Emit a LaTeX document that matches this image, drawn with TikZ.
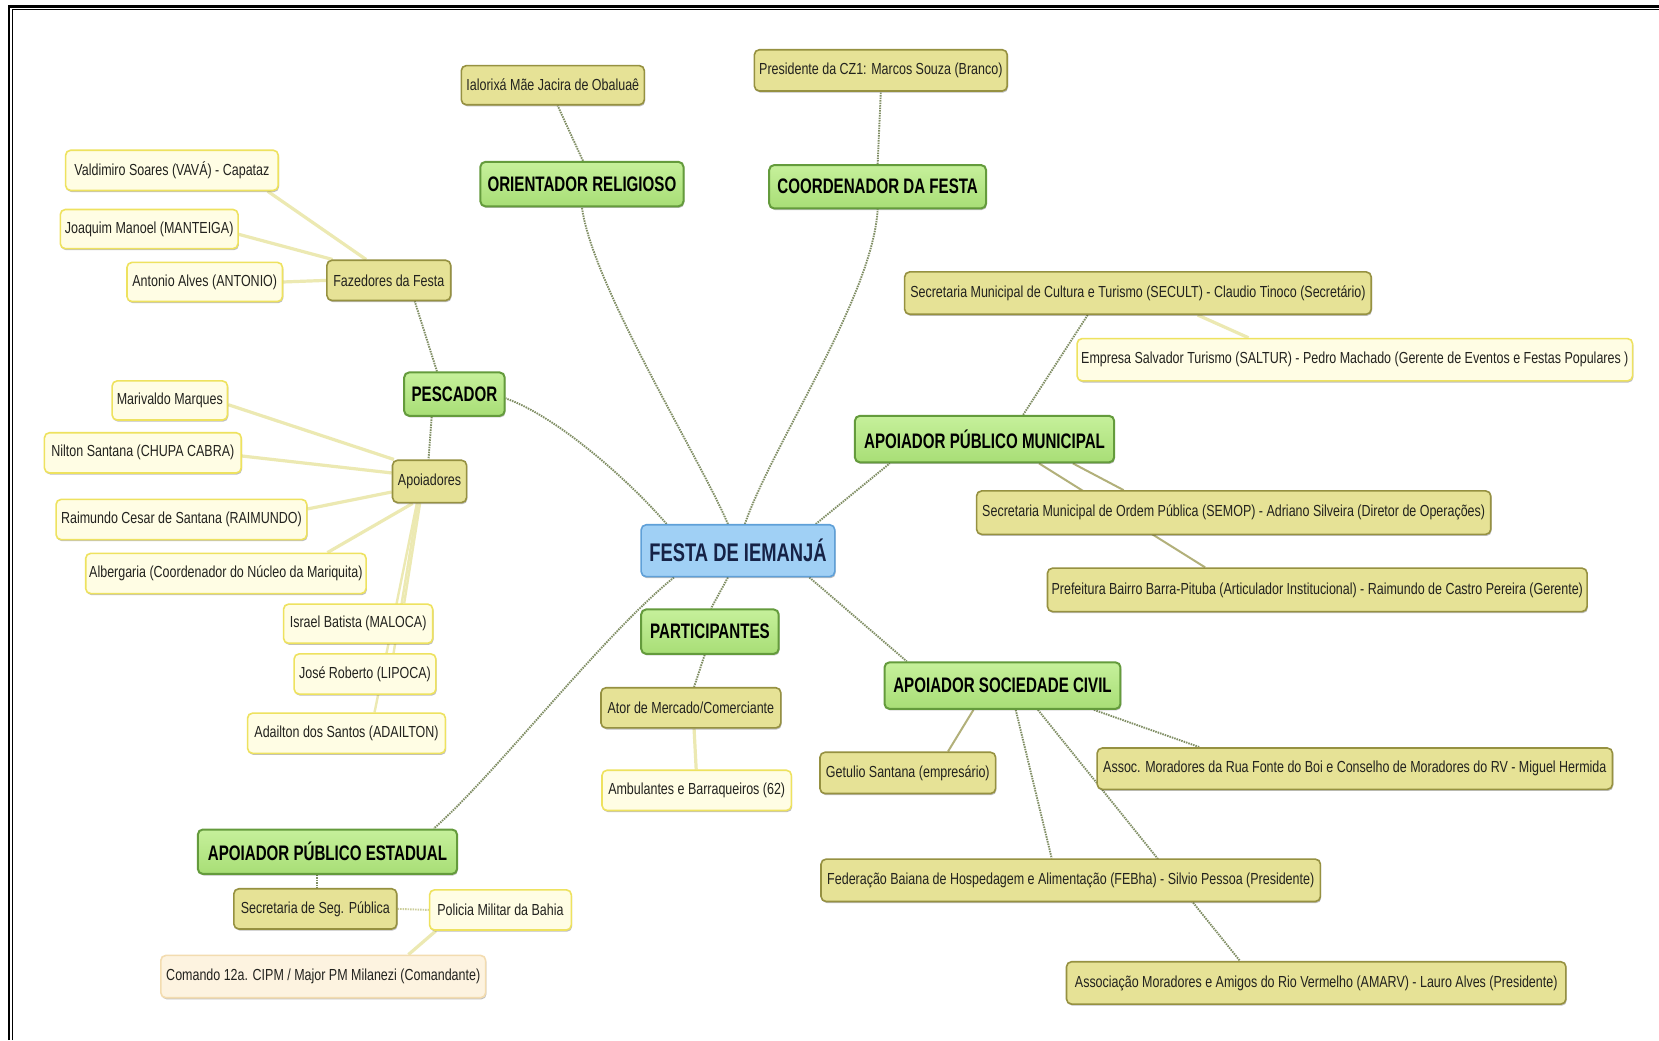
\documentclass[tikz,border=0pt]{standalone}
\usepackage{fontspec}
\setmainfont{Liberation Sans}
\newfontfamily\leaffont[FakeStretch=0.78]{Liberation Sans}
\newfontfamily\catfont[FakeStretch=0.72]{Liberation Sans}
\usetikzlibrary{calc,shadows}
\pgfdeclarelayer{paper}
\pgfdeclarelayer{bg}
\pgfsetlayers{paper,bg,main}

\definecolor{rootfill}{RGB}{160,208,245}
\definecolor{rootline}{RGB}{95,160,216}
\definecolor{roottext}{RGB}{22,34,70}
\definecolor{cattop}{RGB}{198,240,155}
\definecolor{catbot}{RGB}{168,222,118}
\definecolor{catline}{RGB}{100,155,60}
\definecolor{midfill}{RGB}{230,226,150}
\definecolor{midline}{RGB}{150,145,65}
\definecolor{leaffill}{RGB}{255,253,228}
\definecolor{leafline}{RGB}{238,226,95}
\definecolor{peachfill}{RGB}{253,243,224}
\definecolor{peachline}{RGB}{243,220,176}
\definecolor{txt}{RGB}{34,34,30}
\definecolor{linkgray}{RGB}{128,142,100}
\definecolor{linkkhaki}{RGB}{178,176,122}
\definecolor{linksoft}{RGB}{236,233,178}

\tikzset{
  box/.style={rounded corners=5pt, inner sep=0pt, align=center, line width=1.6pt,
    drop shadow={shadow xshift=0.8pt, shadow yshift=-1.6pt, opacity=0.25, fill=black}},
  sz/.style 2 args={minimum width=#1*1.058pt, minimum height=#2*1.058pt},
  root/.style={box, fill=rootfill, draw=rootline, text=roottext,
    font=\catfont\bfseries\fontsize{25.5}{28}\selectfont},
  cat/.style={box, draw=catline, top color=cattop, bottom color=catbot, text=black,
    line width=2pt, font=\catfont\bfseries\fontsize{21}{24}\selectfont},
  mid/.style={box, fill=midfill, draw=midline, text=txt,
    font=\leaffont\fontsize{16}{18}\selectfont},
  leaf/.style={box, fill=leaffill, draw=leafline, text=txt,
    font=\leaffont\fontsize{16}{18}\selectfont},
  peach/.style={box, fill=peachfill, draw=peachline, text=txt,
    font=\leaffont\fontsize{16}{18}\selectfont},
  link/.style={draw=linkgray, line width=1.9pt, dash pattern=on 1.5pt off 1pt},
  khakilink/.style={draw=linkkhaki, line width=2pt},
  softlink/.style={draw=linksoft, line width=3.2pt},
}

\begin{document}
\begin{tikzpicture}[x=1.058pt, y=-1.058pt]
  % page
  \begin{pgfonlayer}{paper}
    \fill[white] (0,0) rectangle (1568,983);
  \end{pgfonlayer}
  \useasboundingbox (0,0) rectangle (1568,983);
  % double frame rule, top and left
  \draw[line width=2.2pt] (8.5,983) -- (8.5,6.1) -- (1568,6.1);
  \draw[line width=1.3pt] (11.8,983) -- (11.8,9.2) -- (1568,9.2);

  % centre
  \node[root, sz={183}{49}] (festa) at (697.5,520.5) {FESTA DE IEMANJÁ};

  % categories
  \node[cat, sz={192}{42}] (orient) at (550,174) {ORIENTADOR RELIGIOSO};
  \node[cat, sz={205}{41}] (coord) at (829.5,176.5) {COORDENADOR DA FESTA};
  \node[cat, sz={95}{41}] (pescador) at (429.5,372.5) {PESCADOR};
  \node[cat, sz={130}{42}] (particip) at (671,597) {PARTICIPANTES};
  \node[cat, sz={245}{42}] (ape) at (309.5,805) {APOIADOR PÚBLICO ESTADUAL};
  \node[cat, sz={245}{44}] (apm) at (930.5,415) {APOIADOR PÚBLICO MUNICIPAL};
  \node[cat, sz={223}{44}] (asc) at (947.5,648) {APOIADOR SOCIEDADE CIVIL};

  % religious and festival coordination
  \node[mid, sz={173}{37}] (ialorixa) at (522.5,80.5) {Ialorixá Mãe Jacira de Obaluaê};
  \node[mid, sz={239}{39}] (presid) at (832.5,66.5) {Presidente da CZ1: Marcos Souza (Branco)};

  % fishermen
  \node[mid, sz={117}{38}] (fazedores) at (367.5,265) {Fazedores da Festa};
  \node[leaf, sz={201}{38}] (valdimiro) at (162.5,161) {Valdimiro Soares (VAVÁ) - Capataz};
  \node[leaf, sz={168}{37}] (joaquim) at (141,216.5) {Joaquim Manoel (MANTEIGA)};
  \node[leaf, sz={147}{37}] (antonio) at (193.5,266.5) {Antonio Alves (ANTONIO)};
  \node[mid, sz={70}{40}] (apoiadores) at (406,455) {Apoiadores};
  \node[leaf, sz={109}{37}] (marivaldo) at (160.5,378.5) {Marivaldo Marques};
  \node[leaf, sz={186}{38}] (nilton) at (135,428) {Nilton Santana (CHUPA CABRA)};
  \node[leaf, sz={237}{38}] (raimundo) at (171.5,491) {Raimundo Cesar de Santana (RAIMUNDO)};
  \node[leaf, sz={265}{38}] (albergaria) at (213.5,542) {Albergaria (Coordenador do Núcleo da Mariquita)};
  \node[leaf, sz={141}{37}] (israel) at (338.5,589.5) {Israel Batista (MALOCA)};
  \node[leaf, sz={134}{38}] (jose) at (345,637) {José Roberto (LIPOCA)};
  \node[leaf, sz={187}{38}] (adailton) at (327.5,693) {Adailton dos Santos (ADAILTON)};

  % participants
  \node[mid, sz={170}{38}] (ator) at (653,669) {Ator de Mercado/Comerciante};
  \node[leaf, sz={179}{38}] (ambul) at (658.5,747) {Ambulantes e Barraqueiros (62)};

  % state support
  \node[mid, sz={154}{38}] (segpub) at (298,859) {Secretaria de Seg. Pública};
  \node[leaf, sz={134}{38}] (policia) at (473,860) {Policia Militar da Bahia};
  \node[peach, sz={307}{40}] (comando) at (305.5,923) {Comando 12a. CIPM / Major PM Milanezi (Comandante)};

  % municipal support
  \node[mid, sz={441}{40}] (secult) at (1075.5,277) {Secretaria Municipal de Cultura e Turismo (SECULT) - Claudio Tinoco (Secretário)};
  \node[leaf, sz={525}{40}] (saltur) at (1280.5,340) {Empresa Salvador Turismo (SALTUR) - Pedro Machado (Gerente de Eventos e Festas Populares )};
  \node[mid, sz={486}{41}] (semop) at (1166,484.5) {Secretaria Municipal de Ordem Pública (SEMOP) - Adriano Silveira (Diretor de Operações)};
  \node[mid, sz={510}{41}] (prefeit) at (1245,557.5) {Prefeitura Bairro Barra-Pituba (Articulador Institucional) - Raimundo de Castro Pereira (Gerente)};

  % civil society support
  \node[mid, sz={166}{39}] (getulio) at (858,730.5) {Getulio Santana (empresário)};
  \node[mid, sz={487}{39}] (assoc) at (1280.5,726.5) {Assoc. Moradores da Rua Fonte do Boi e Conselho de Moradores do RV - Miguel Hermida};
  \node[mid, sz={472}{40}] (febha) at (1012,832) {Federação Baiana de Hospedagem e Alimentação (FEBha) - Silvio Pessoa (Presidente)};
  \node[mid, sz={472}{40}] (amarv) at (1244,929) {Associação Moradores e Amigos do Rio Vermelho (AMARV) - Lauro Alves (Presidente)};

  \begin{pgfonlayer}{bg}
    % centre to categories
    \draw[link] ($(festa.north)+(-9.5,0)$) .. controls (660,430) and (560,270) .. (orient.south);
    \draw[link] ($(festa.north)+(6.5,0)$) .. controls (730,420) and (825,280) .. (coord.south);
    \draw[link] ($(festa.north)+(-67.5,0)$) .. controls (600,460) and (530,395) .. ($(pescador.east)+(0,4)$);
    \draw[link] ($(festa.north)+(73.5,0)$) -- ($(apm.south)+(-89.5,0)$);
    \draw[link] ($(festa.south)+(67.5,0)$) -- ($(asc.north)+(-90.5,0)$);
    \draw[link] ($(festa.south)+(-9.5,0)$) -- ($(particip.north)+(1,0)$);
    \draw[link] ($(festa.south)+(-60.5,0)$) .. controls (570,600) and (470,730) .. ($(ape.north)+(100.5,0)$);

    % religious and coordination
    \draw[link] ($(orient.north)+(1,0)$) -- ($(ialorixa.south)+(4.5,0)$);
    \draw[link] (coord.north) -- (presid.south);

    % fishermen
    \draw[link] ($(pescador.north)+(-16.5,0)$) -- ($(fazedores.south)+(24.5,0)$);
    \draw[link] ($(pescador.south)+(-21.5,0)$) -- ($(apoiadores.north)+(-1,0)$);
    \draw[softlink] ($(fazedores.north)+(-21.5,0)$) -- ($(valdimiro.south)+(90.5,0)$);
    \draw[softlink] ($(fazedores.north west)+(6,0)$) -- ($(joaquim.east)+(0,5)$);
    \draw[softlink] (fazedores.west) -- (antonio.east);
    \draw[softlink] ($(apoiadores.north west)+(2,0)$) -- ($(marivaldo.east)+(0,4)$);
    \draw[softlink] ($(apoiadores.west)+(0,-8)$) -- ($(nilton.east)+(0,3)$);
    \draw[softlink] ($(apoiadores.west)+(0,10)$) -- ($(raimundo.east)+(0,-10)$);
    \draw[softlink] ($(apoiadores.south)+(-16,0)$) -- ($(albergaria.north)+(96,0)$);
    \draw[softlink, line width=2.4pt] ($(apoiadores.south)+(-9,0)$) -- ($(israel.north)+(43.5,0)$);
    \draw[softlink, line width=2.4pt] ($(apoiadores.south)+(-11,0)$) -- ($(jose.north)+(27,0)$);
    \draw[softlink, line width=2.4pt] ($(apoiadores.south)+(-12,0)$) -- ($(adailton.north)+(26.5,0)$);

    % participants
    \draw[link] ($(particip.south)+(-5,0)$) -- ($(ator.north)+(3,0)$);
    \draw[softlink] ($(ator.south)+(3,0)$) -- ($(ambul.north)+(-0.5,0)$);

    % state support
    \draw[link] ($(ape.south)+(-10,0)$) -- ($(segpub.north)+(1.5,0)$);
    \draw[link, draw=linksoft!70!linkgray] (segpub.east) -- (policia.west);
    \draw[softlink] ($(policia.south)+(-61,0)$) -- ($(comando.north)+(80.5,0)$);

    % municipal support
    \draw[link] ($(apm.north)+(36.5,0)$) -- ($(secult.south)+(-47.5,0)$);
    \draw[softlink] ($(secult.south)+(56.5,0)$) -- ($(saltur.north)+(-100.5,0)$);
    \draw[khakilink] ($(apm.south)+(83.5,0)$) -- ($(semop.north)+(-104,0)$);
    \draw[khakilink] ($(apm.south)+(51.5,0)$) -- ($(prefeit.north)+(-106,0)$);

    % civil society support
    \draw[khakilink] ($(asc.south)+(-27.5,0)$) -- ($(getulio.north)+(38,0)$);
    \draw[link] ($(asc.south)+(86.5,0)$) -- ($(assoc.north)+(-146.5,0)$);
    \draw[link] ($(asc.south)+(12.5,0)$) -- ($(febha.north)+(-18,0)$);
    \draw[link] ($(asc.south)+(33.5,0)$) -- ($(amarv.north)+(-72,0)$);
  \end{pgfonlayer}
\end{tikzpicture}
\end{document}
